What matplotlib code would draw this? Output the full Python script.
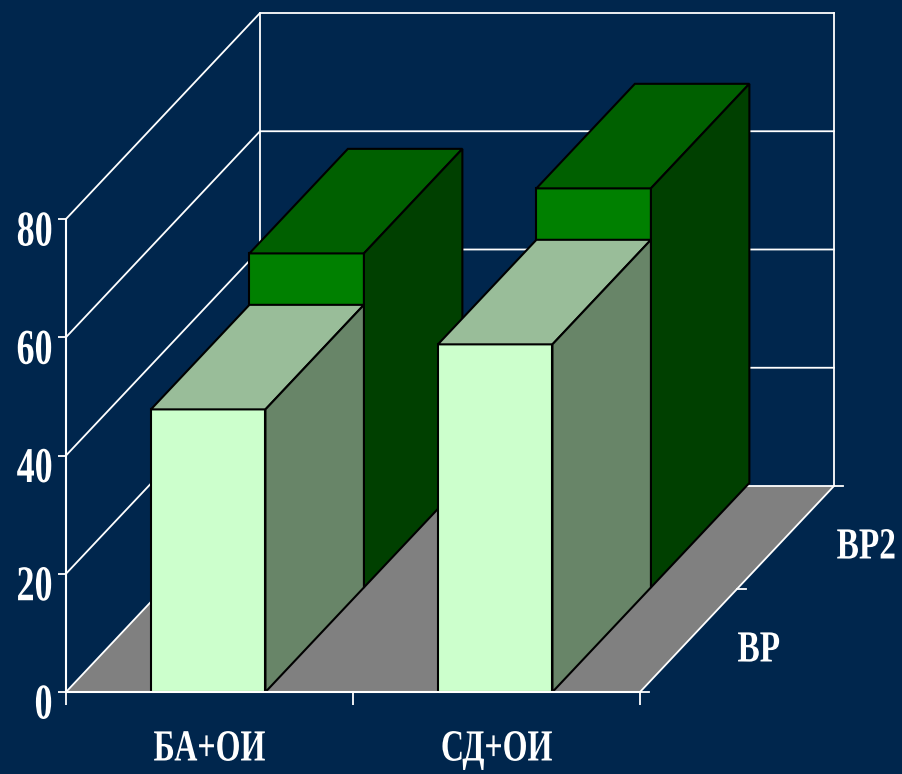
import matplotlib
matplotlib.use('Agg')
import matplotlib.pyplot as plt
from matplotlib.patches import Polygon
from matplotlib.patheffects import AbstractPathEffect
from matplotlib.transforms import Affine2D

categories = ['БА+ОИ', 'СД+ОИ']
series_names = ['ВР', 'ВР2']
vr = [47.8, 58.8]
vr2 = [56.5, 67.5]
y_ticks = [0, 20, 40, 60, 80]

background = '#00264d'
white = '#ffffff'
floor_color = '#808080'
# front, top and side colours of the boxes, one set per series
vr_colors = ['#ccffcc', '#99bd99', '#688568']
vr2_colors = ['#008000', '#006000', '#004000']

# oblique offset of one series row, in data units of the front plane
depth_dx = 97 / 287
depth_dy = 103 / 5.9125
box_stretch = 1.015
bar_left = 0.296
bar_width = 0.399


class Squeeze(AbstractPathEffect):
    # narrows glyphs around a point of their extent, the font has no condensed cut
    def __init__(self, factor=0.72, pivot=0.5):
        super().__init__()
        self.factor = factor
        self.pivot = pivot

    def draw_path(self, renderer, gc, tpath, affine, rgbFace=None):
        box = tpath.get_extents(affine)
        px = box.x0 + box.width * self.pivot
        squeezed = affine + Affine2D().translate(-px, 0).scale(self.factor, 1).translate(px, 0)
        renderer.draw_path(gc, tpath, squeezed, rgbFace)


def project(x, y, depth):
    return x + depth * depth_dx, y + depth * depth_dy


def draw_box(ax, x0, x1, top, row, colors):
    near = row * box_stretch
    far = (row + 1) * box_stretch
    a = project(x0, 0, near)
    b = project(x1, 0, near)
    c = project(x1, top, near)
    d = project(x0, top, near)
    e = project(x1, top, far)
    f = project(x0, top, far)
    g = project(x1, 0, far)
    faces = [[a, b, c, d], [d, c, e, f], [b, g, e, c]]
    for pts, col in zip(faces, colors):
        ax.add_patch(Polygon(pts, closed=True, facecolor=col, edgecolor='black',
                             linewidth=1.5, joinstyle='miter', clip_on=False, zorder=2))


plt.rcParams['font.family'] = ['Liberation Serif', 'DejaVu Serif']
fig = plt.figure(figsize=(9.02, 7.74), dpi=100, facecolor=background)
ax = fig.add_axes([66 / 902, (774 - 692) / 774, 574 / 902, 473 / 774])
ax.set_xlim(0, 2)
ax.set_ylim(0, 80)
ax.patch.set_visible(False)

# floor
ax.add_patch(Polygon([project(0, 0, 0), project(2, 0, 0), project(2, 0, 2), project(0, 0, 2)],
                     closed=True, facecolor=floor_color, edgecolor='none', clip_on=False, zorder=0.4))

# side wall and back wall lines
wall = dict(color=white, linewidth=1.3, clip_on=False, zorder=0.5)
for v in y_ticks:
    x_w, y_w = zip(project(0, v, 0), project(0, v, 2), project(2, v, 2))
    ax.plot(x_w, y_w, **wall)
x_w, y_w = zip(project(0, 0, 2), project(0, 80, 2))
ax.plot(x_w, y_w, **wall)
x_w, y_w = zip(project(2, 0, 2), project(2, 80, 2))
ax.plot(x_w, y_w, **wall)
x_w, y_w = zip(project(2, 0, 0), project(2, 0, 2))
ax.plot(x_w, y_w, **wall)

# depth axis ticks
for row in range(3):
    x_t, y_t = project(2, 0, row)
    ax.plot([x_t, x_t + 0.032], [y_t, y_t], **wall)

# back row first so the front row covers it
for i, v in enumerate(vr2):
    draw_box(ax, i + bar_left, i + bar_left + bar_width, v, 1, vr2_colors)
for i, v in enumerate(vr):
    draw_box(ax, i + bar_left, i + bar_left + bar_width, v, 0, vr_colors)

for side in ['top', 'right']:
    ax.spines[side].set_visible(False)
for side in ['left', 'bottom']:
    ax.spines[side].set_color(white)
    ax.spines[side].set_linewidth(1.5)

ax.set_yticks(y_ticks)
ax.set_yticklabels([str(v) for v in y_ticks], fontsize=36, fontweight='bold', color=white)
ax.tick_params(axis='y', length=5.8, width=1.3, color=white, pad=3.6)
for label in ax.get_yticklabels():
    label.set_transform(label.get_transform() + Affine2D().translate(0, -9))
    label.set_path_effects([Squeeze(0.72, 1.0)])

ax.set_xticks([0, 1, 2])
ax.set_xticklabels([])
ax.tick_params(axis='x', length=9.4, width=1.3, color=white)
ax.set_xticks([0.5, 1.5], minor=True)
ax.set_xticklabels(categories, minor=True, fontsize=32, fontweight='bold', color=white)
ax.tick_params(axis='x', which='minor', length=0, pad=27)
for label in ax.get_xticklabels(minor=True):
    label.set_path_effects([Squeeze(0.72, 0.5)])

# row names beside the depth axis
for row, name in enumerate(series_names):
    ax.annotate(name, xy=project(2, 0, row + 0.5), xytext=(92 + 19 * row, -10), textcoords='offset pixels',
                ha='right', va='center', fontsize=32, fontweight='bold', color=white,
                annotation_clip=False, path_effects=[Squeeze(0.75, 1.0)])

fig.savefig('out.png', dpi=100, facecolor=background)
